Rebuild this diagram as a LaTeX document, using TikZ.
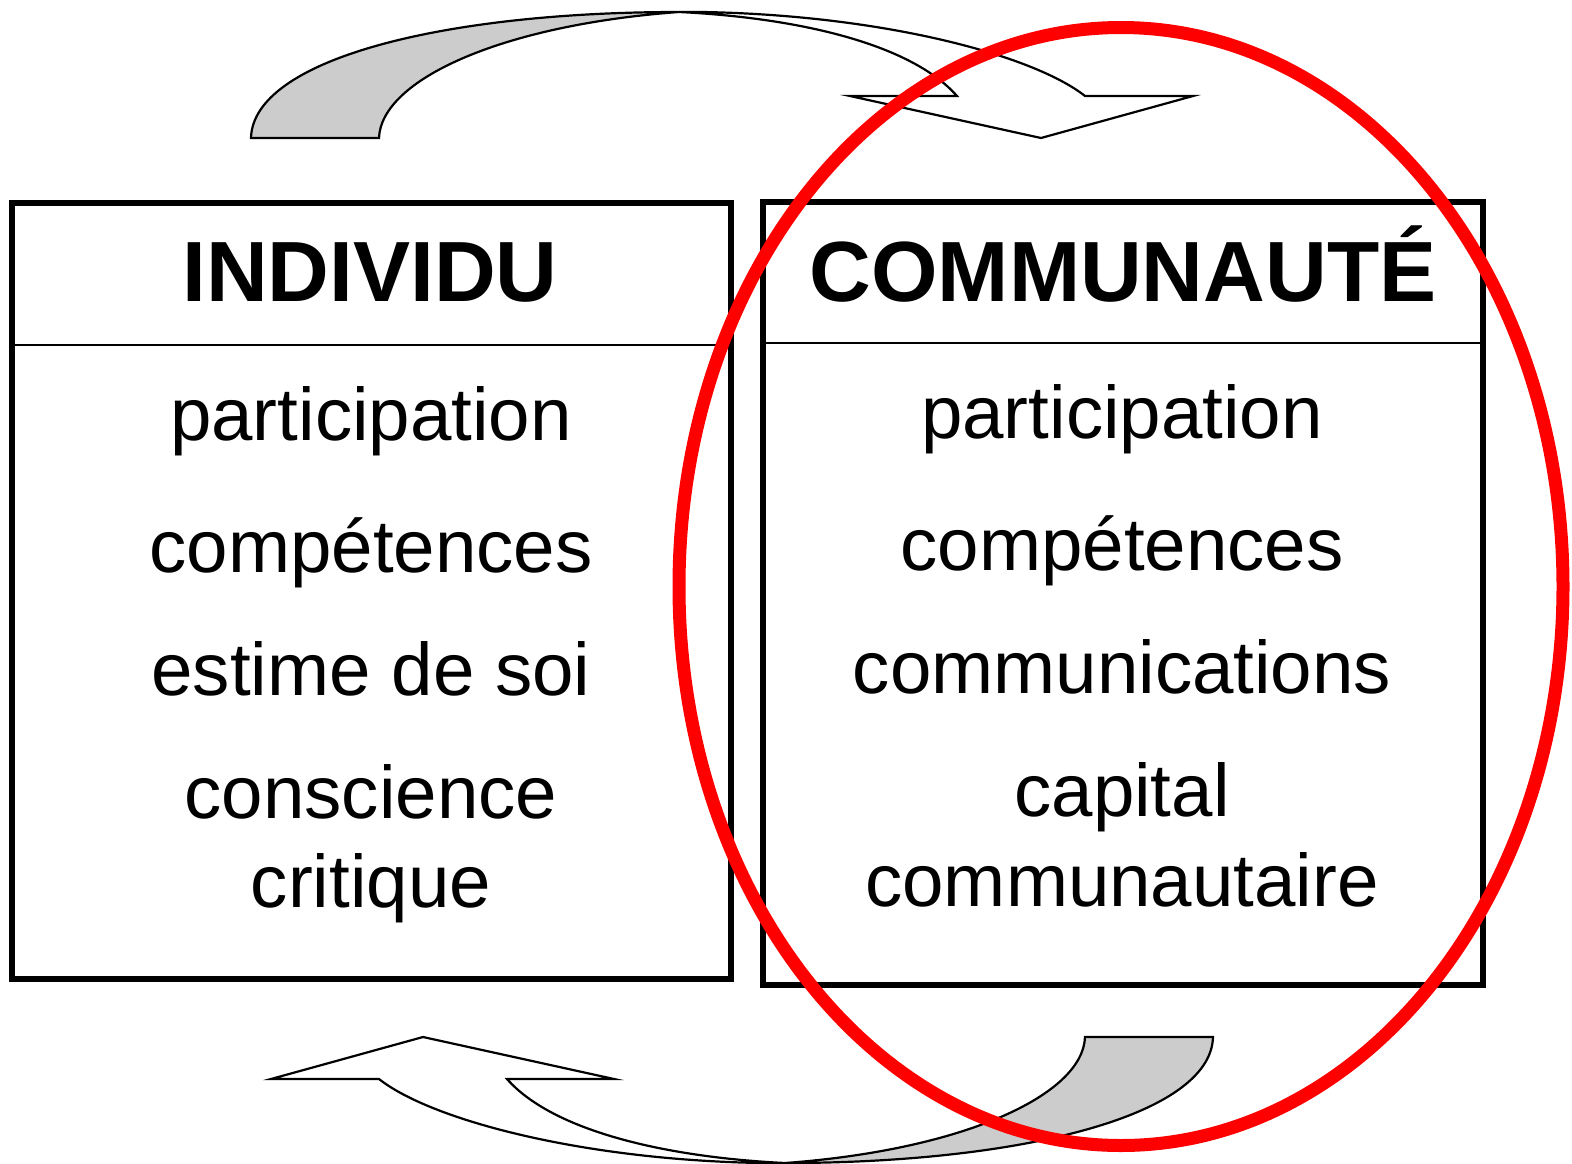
\documentclass[tikz,border=0pt]{standalone}
\usepackage{fontspec}
\setmainfont{Liberation Sans}
\newcommand\curvarrowpath{%
  \filldraw[arrowline, fill=gray!40] (251,138) .. controls (253,60) and (441,12) .. (679,12)
     .. controls (501,25) and (381,80) .. (379,138) -- cycle;
  \filldraw[arrowline, fill=white] (679,12) -- (702,12) .. controls (882,15) and (1033,55) .. (1085,96)
     -- (1193,96) -- (1041,138) -- (850,96) -- (957,96)
     .. controls (912,45) and (802,18) .. (679,12) -- cycle;
}
\begin{document}
\begin{tikzpicture}[x=1pt,y=-1pt,
  boxline/.style={line width=6pt},
  divline/.style={line width=2pt},
  arrowline/.style={line width=2.2pt, line join=miter},
  bodytext/.style={anchor=base, font=\fontsize{74.5}{90}\selectfont, inner sep=0pt},
  headtext/.style={anchor=base, font=\fontsize{85.5}{100}\selectfont\bfseries, inner sep=0pt},
  ring/.style={draw=red, line width=13pt}]
\useasboundingbox (0,0) rectangle (1572,1163);
\fill[white] (0,0) rectangle (1572,1163);

% curved arrows
\begin{scope}
  \curvarrowpath
\end{scope}
\begin{scope}[rotate around={180:(732,587.5)}]
  \curvarrowpath
\end{scope}

% left box
\draw[boxline] (11.5,203) rectangle (731,979);
\draw[divline] (11.5,345) -- (731,345);
\node[headtext] (h1) at (370,301) {INDIVIDU};
\node[bodytext] (l1) at (371,440) {participation};
\node[bodytext] (l2) at (371,572) {compétences};
\node[bodytext] (l3) at (371,695) {estime de soi};
\node[bodytext] (l4) at (371,818) {conscience};
\node[bodytext] (l5) at (371,907) {critique};

% right box
\draw[boxline] (763,202) rectangle (1483,985);
\draw[divline] (763,343) -- (1483,343);
\node[headtext] (h2) at (1123,301) {COMMUNAUTÉ};
\node[bodytext] (r1) at (1122,438) {participation};
\node[bodytext] (r2) at (1122,570) {compétences};
\node[bodytext] (r3) at (1122,693) {communications};
\node[bodytext] (r4) at (1122,816) {capital};
\node[bodytext] (r5) at (1122,906) {communautaire};

% red ellipse
\draw[ring] (1121,586.5) ellipse [x radius=442, y radius=559];
\end{tikzpicture}
\end{document}
